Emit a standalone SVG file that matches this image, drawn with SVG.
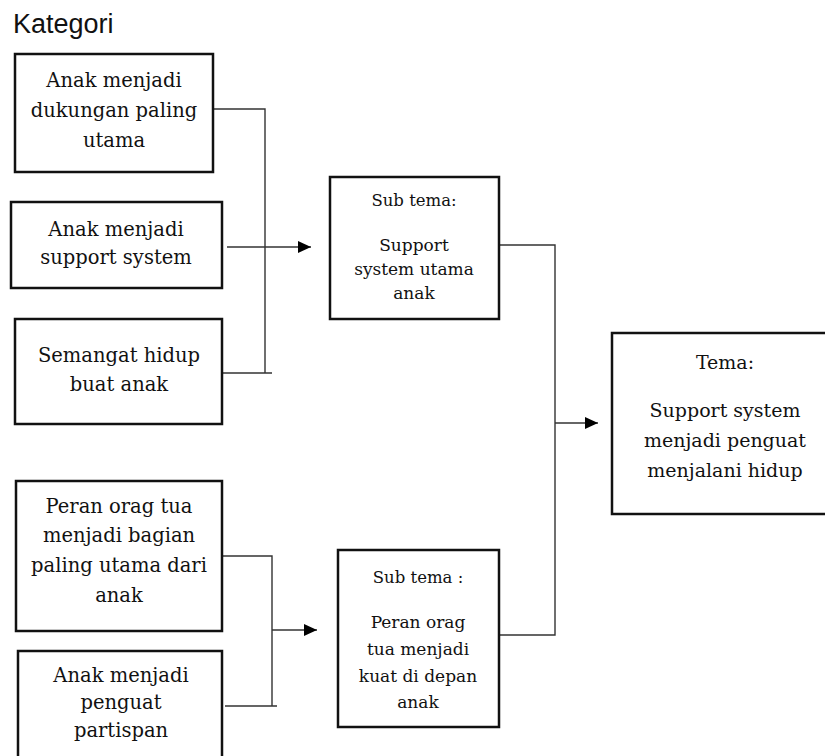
<svg xmlns="http://www.w3.org/2000/svg" width="825" height="756" viewBox="0 0 825 756">
<style>
.box{fill:#fff;stroke:#111;stroke-width:2.5}
.t{font-family:"DejaVu Serif","Liberation Serif",serif;font-size:19.5px;fill:#111;text-anchor:middle}
.tm{font-size:19px}
.s{font-family:"DejaVu Serif","Liberation Serif",serif;font-size:17px;fill:#111;text-anchor:middle}
.lab{font-size:16.5px}
.c{fill:none;stroke:#333;stroke-width:1.4}
</style>
<defs>
<marker id="ah" markerUnits="userSpaceOnUse" markerWidth="14" markerHeight="12" refX="13" refY="6" orient="auto">
<path d="M0,0 L13,6 L0,12 Z" fill="#000"/>
</marker>
</defs>
<rect width="825" height="756" fill="#fff"/>
<text x="13" y="33" font-family="Liberation Sans, Arial, sans-serif" font-size="27" fill="#111">Kategori</text>

<g id="connectors">
<path class="c" d="M213,109 H265 V373 M222,373 H272"/>
<path class="c" d="M227,247 H311" marker-end="url(#ah)"/>
<path class="c" d="M222,556 H272 V706 M225,706 H277"/>
<path class="c" d="M272,630 H317" marker-end="url(#ah)"/>
<path class="c" d="M499,245 H555 V635 H499"/>
<path class="c" d="M555,423 H598" marker-end="url(#ah)"/>
</g>

<g id="k1">
<rect class="box" x="15" y="54" width="198" height="118"/>
<text class="t" x="114" y="87">Anak menjadi</text>
<text class="t" x="114" y="117">dukungan paling</text>
<text class="t" x="114" y="147">utama</text>
</g>
<g id="k2">
<rect class="box" x="11" y="202" width="211" height="86"/>
<text class="t" x="116" y="236">Anak menjadi</text>
<text class="t" x="116" y="264">support system</text>
</g>
<g id="k3">
<rect class="box" x="15" y="319" width="207" height="105"/>
<text class="t" x="119" y="362">Semangat hidup</text>
<text class="t" x="119" y="391">buat anak</text>
</g>
<g id="k4">
<rect class="box" x="16" y="481" width="206" height="150"/>
<text class="t" x="119" y="513">Peran orag tua</text>
<text class="t" x="119" y="542">menjadi bagian</text>
<text class="t" x="119" y="572">paling utama dari</text>
<text class="t" x="119" y="602">anak</text>
</g>
<g id="k5">
<rect class="box" x="18" y="651" width="204" height="120"/>
<text class="t" x="121" y="682">Anak menjadi</text>
<text class="t" x="121" y="709">penguat</text>
<text class="t" x="121" y="737">partispan</text>
</g>

<g id="sub1">
<rect class="box" x="330" y="177" width="169" height="142"/>
<text class="s lab" x="414" y="206">Sub tema:</text>
<text class="s" x="414" y="251">Support</text>
<text class="s" x="414" y="275">system utama</text>
<text class="s" x="414" y="299">anak</text>
</g>
<g id="sub2">
<rect class="box" x="338" y="550" width="161" height="177"/>
<text class="s lab" x="418" y="583">Sub tema :</text>
<text class="s" x="418" y="628">Peran orag</text>
<text class="s" x="418" y="655">tua menjadi</text>
<text class="s" x="418" y="682">kuat di depan</text>
<text class="s" x="418" y="708">anak</text>
</g>

<g id="tema">
<rect class="box" x="612" y="333" width="230" height="181"/>
<text class="t tm" x="725" y="369">Tema:</text>
<text class="t tm" x="725" y="417">Support system</text>
<text class="t tm" x="725" y="447">menjadi penguat</text>
<text class="t tm" x="725" y="477">menjalani hidup</text>
</g>
</svg>
